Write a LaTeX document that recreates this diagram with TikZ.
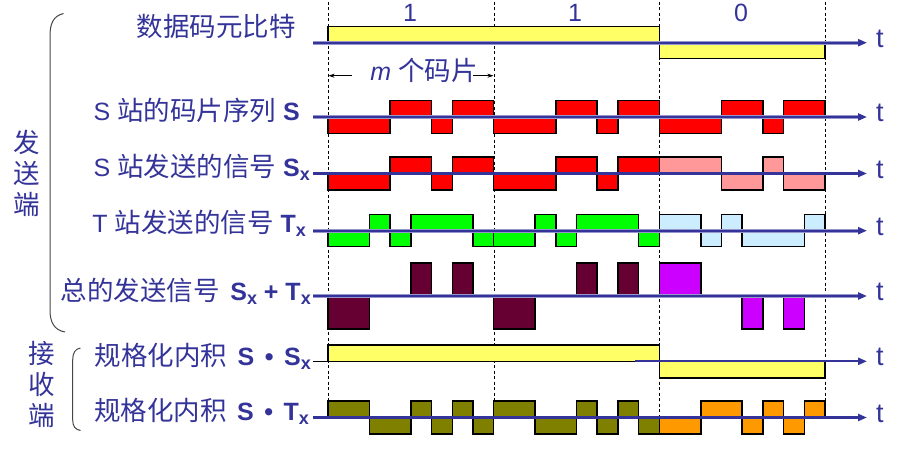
\documentclass[tikz,border=0pt]{standalone}
\usepackage{fontspec}
\setmainfont{Liberation Sans}
\newfontfamily\cjk[Scale=1.06]{Noto Sans CJK SC}
\usetikzlibrary{arrows.meta}
\definecolor{lblue}{RGB}{51,51,153}
\definecolor{axhalo}{RGB}{150,150,205}
\definecolor{cyel}{RGB}{255,255,102}
\definecolor{cred}{RGB}{255,0,0}
\definecolor{cpink}{RGB}{255,153,153}
\definecolor{cgreen}{RGB}{0,255,0}
\definecolor{clblue}{RGB}{204,236,255}
\definecolor{cmaroon}{RGB}{102,0,51}
\definecolor{cmag}{RGB}{204,0,255}
\definecolor{colive}{RGB}{128,128,0}
\definecolor{corange}{RGB}{255,153,0}
\definecolor{bracegray}{RGB}{70,70,70}
\newcommand\zh[1]{{\cjk #1}}
\newcommand\bsub[2]{\textbf{#1}\raisebox{-4pt}{\fontsize{18}{18}\selectfont\bfseries #2}}
\newcommand\wsp{\hspace{0.42em}}
\newcommand\chips[4]{\foreach \s/\e/\v in {#4} {\filldraw[chip, fill=#3] ({328+\s*20.7083},{#1}) rectangle ({328+\e*20.7083},{#1-(\v)*#2});}}
\begin{document}
\begin{tikzpicture}[x=1pt,y=-1pt,
  chip/.style={draw=black, line width=1.5pt},
  dline/.style={draw=black, line width=0.9pt, dash pattern=on 3pt off 2.5pt},
  axcore/.style={draw=lblue, line width=2.3pt, -{Triangle[length=9pt,width=7pt]}},
  axhal/.style={draw=axhalo, line width=3.8pt, shorten >=8pt},
  lbl/.style={text=lblue, inner sep=0pt, font=\fontsize{25}{30}\selectfont},
  tlbl/.style={text=lblue, inner sep=0pt, anchor=base west, font=\fontsize{27}{30}\selectfont},
  marr/.style={draw=black, line width=0.8pt, -{Stealth[length=6pt,width=4pt]}},
  brace/.style={draw=bracegray, line width=1pt}]
\useasboundingbox (0,0) rectangle (907,452);
% dashed bit boundaries
\foreach \i/\x in {1/328,2/494,3/659,4/825}{
  \coordinate (d\i t) at (\x,2);
  \coordinate (d\i b) at (\x,418);
  \draw[dline] (d\i t) -- (d\i b);
}
% bit numbers
\node[lbl, anchor=base] (n1) at (410,21.7) {1};
\node[lbl, anchor=base] (n2) at (575,21.7) {1};
\node[lbl, anchor=base] (n3) at (741,21.7) {0};
% m chips
\node[lbl, anchor=base] (mlab) at (424,80) {\textit{m} \zh{个码片}};
\coordinate (mL) at (328.6,75.7);
\coordinate (mR) at (493.4,75.7);
\draw[marr] ([xshift=-18pt]mlab.west |- mL) -- (mL);
\draw[marr] ([xshift=-5pt]mlab.east |- mR) -- (mR);
% waveforms
\chips{42.7}{16}{cyel}{0/16/1,16/24/-1}
\chips{117}{16.5}{cred}{0/3/-1,3/5/1,5/6/-1,6/8/1,8/11/-1,11/13/1,13/14/-1,14/16/1,16/19/-1,19/21/1,21/22/-1,22/24/1}
\chips{173.5}{16.5}{cred}{0/3/-1,3/5/1,5/6/-1,6/8/1,8/11/-1,11/13/1,13/14/-1,14/16/1}
\chips{173.5}{16.5}{cpink}{16/19/1,19/21/-1,21/22/1,22/24/-1}
\chips{230.7}{16}{cgreen}{0/2/-1,2/3/1,3/4/-1,4/7/1,7/8/-1,8/10/-1,10/11/1,11/12/-1,12/15/1,15/16/-1}
\chips{230.7}{16}{clblue}{16/18/1,18/19/-1,19/20/1,20/23/-1,23/24/1}
\chips{296}{33}{cmaroon}{0/2/-1,4/5/1,6/7/1,8/10/-1,12/13/1,14/15/1}
\chips{296}{33}{cmag}{16/18/1,20/21/-1,22/23/-1}
\chips{361.3}{16.5}{cyel}{0/16/1,16/24/-1}
\chips{417.5}{16.5}{colive}{0/2/1,2/4/-1,4/5/1,5/6/-1,6/7/1,7/8/-1,8/10/1,10/12/-1,12/13/1,13/14/-1,14/15/1,15/16/-1}
\chips{417.5}{16.5}{corange}{16/18/-1,18/20/1,20/21/-1,21/22/1,22/23/-1,23/24/1}
% axes
\foreach \r/\y in {1/42.7,2/117,3/173.5,4/230.7,5/296,7/417.5}{
  \coordinate (a\r s) at (313,\y);
  \coordinate (a\r e) at (867,\y);
  \draw[axhal] (a\r s) -- (a\r e);
  \draw[axcore] (a\r s) -- (a\r e);
}
\coordinate (a6k) at (313,361.3);
\coordinate (a6s) at (635,361.3);
\coordinate (a6e) at (867,361.3);
\draw[black, line width=1pt] (a6k) -- (a6s);
\draw[axcore] (a6s) -- (a6e);
% t labels
\foreach \r/\y in {1/42.7,2/117,3/173.5,4/230.7,5/296,6/361.3,7/417.5}{
  \node[tlbl] (t\r) at (876,\y+4.5) {t};
}
% row labels
\node[lbl, anchor=base east] (L1) at (296,36.5) {\zh{数据码元比特}};
\node[lbl, anchor=base east] (L2) at (300,120.7) {S \zh{站的码片序列} \textbf{S}};
\node[lbl, anchor=base east] (L3) at (310,176) {S \zh{站发送的信号} \bsub{S}{x}};
\node[lbl, anchor=base east] (L4) at (306,232.7) {T \zh{站发送的信号} \bsub{T}{x}};
\node[lbl, anchor=base east] (L5) at (311,300) {\zh{总的发送信号}\wsp\bsub{S}{x} \textbf{+} \bsub{T}{x}};
\node[lbl, anchor=base east] (L6) at (311,365.7) {\zh{规格化内积}\wsp\textbf{S\wsp•\wsp}\bsub{S}{x}};
\node[lbl, anchor=base east] (L7) at (309,420.7) {\zh{规格化内积}\wsp\textbf{S\wsp•\wsp}\bsub{T}{x}};
% group labels
\node[lbl, align=center, font=\fontsize{25}{31}\selectfont] (G1) at (27,173) {\zh{发}\\\zh{送}\\\zh{端}};
\node[lbl, align=center, font=\fontsize{25}{31}\selectfont] (G2) at (42,384) {\zh{接}\\\zh{收}\\\zh{端}};
% brackets
\draw[brace] (63.5,13.5) .. controls (53,16) and (50,24) .. (50,36) -- (50,310) .. controls (50,322) and (54,330) .. (65,332);
\draw[brace] (80.5,348) .. controls (75,349) and (72.7,353) .. (72.7,360) -- (72.7,420) .. controls (72.7,426) and (75,429.5) .. (80.5,430.5);
\end{tikzpicture}
\end{document}
